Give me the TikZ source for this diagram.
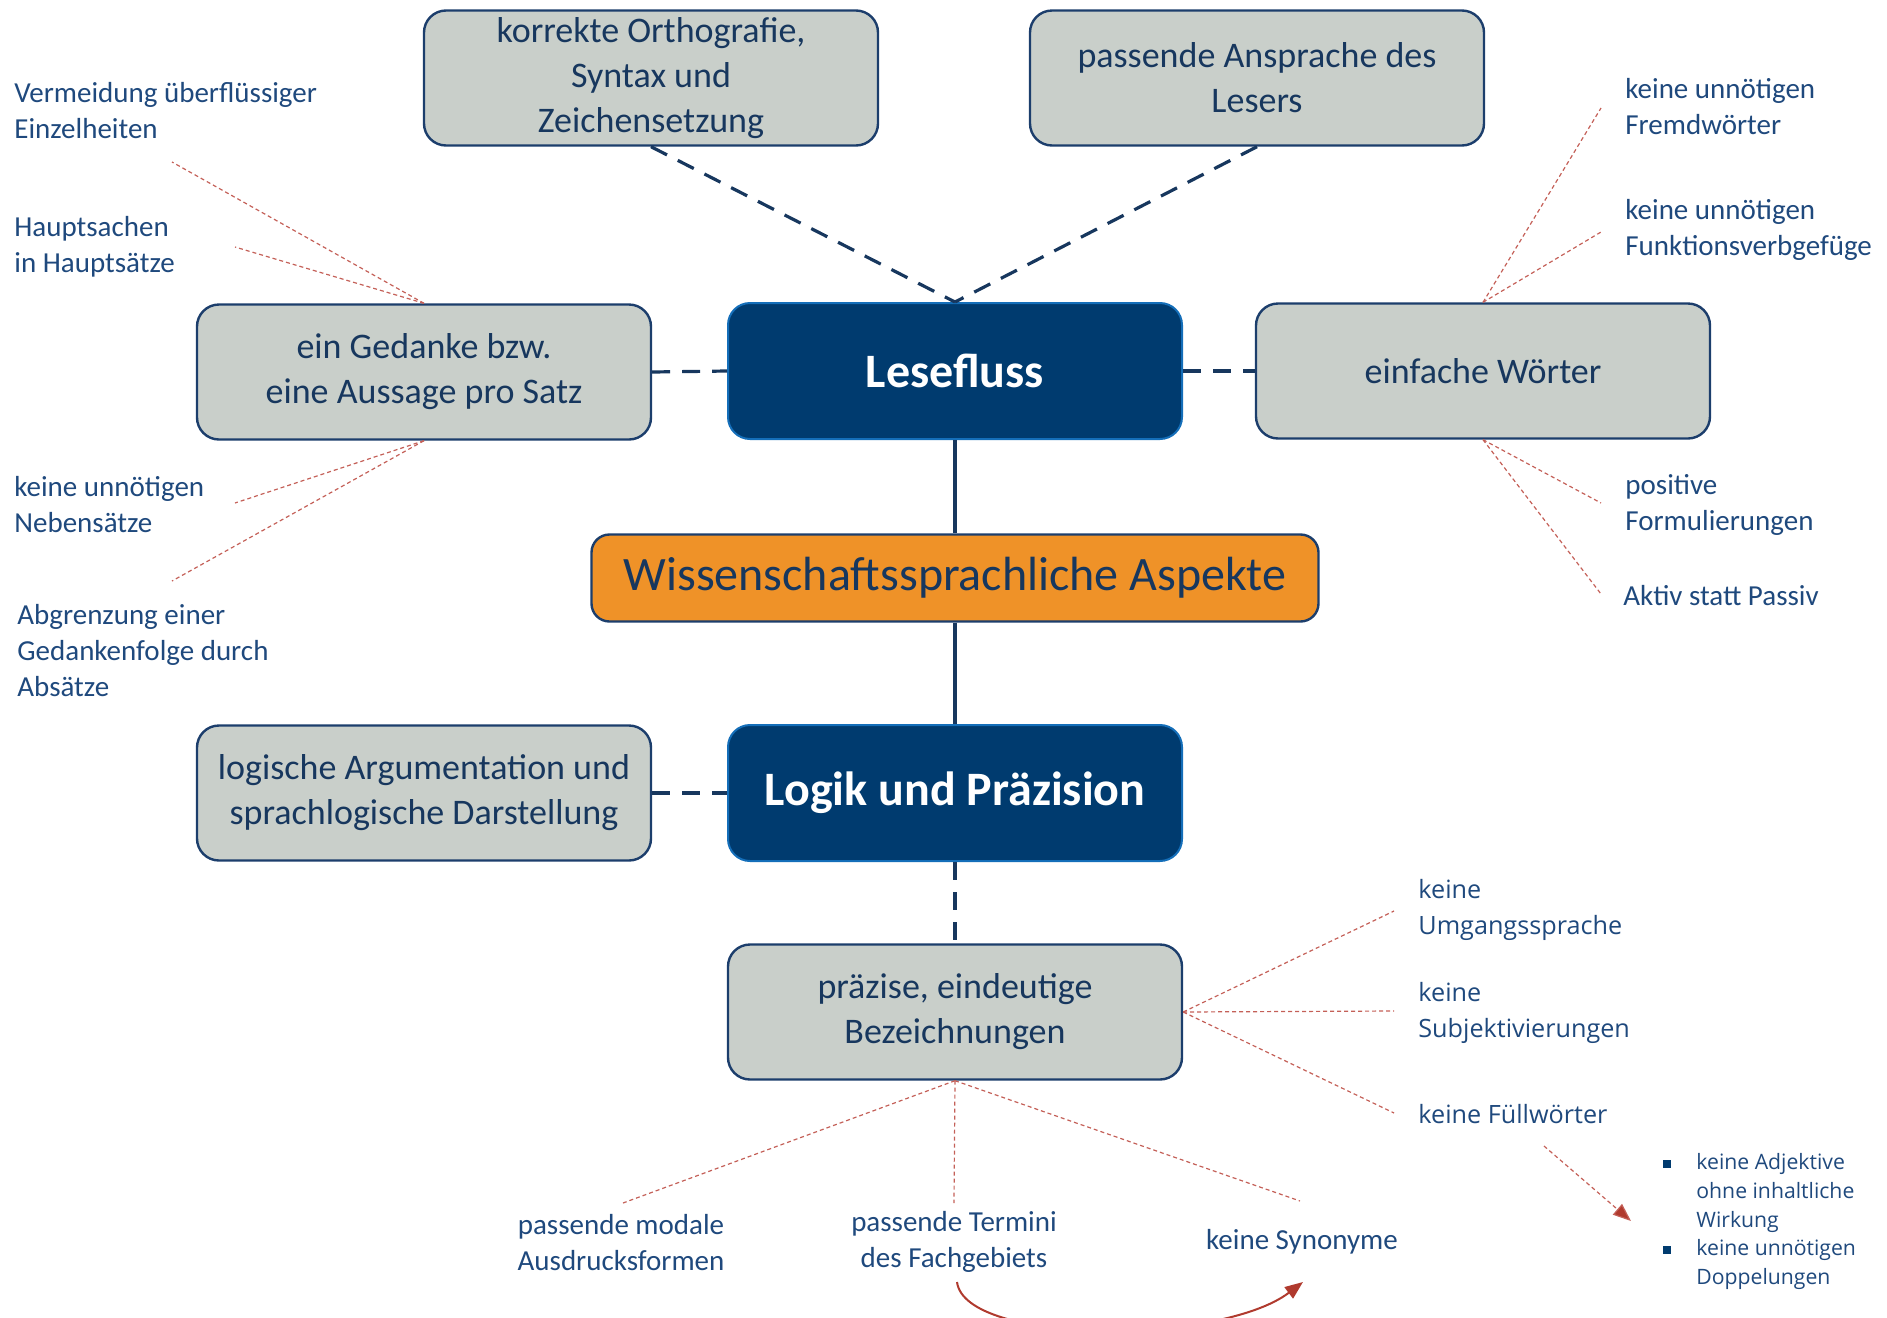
\documentclass[tikz,border=0pt]{standalone}
\usepackage{fontspec}
\setmainfont{Carlito}
\newfontfamily\segoe{Open Sans}
\usetikzlibrary{arrows.meta}

\definecolor{navy}{RGB}{0,59,111}
\definecolor{hauptrand}{RGB}{20,110,185}
\definecolor{boxgrau}{RGB}{201,207,202}
\definecolor{boxrand}{RGB}{28,62,108}
\definecolor{boxtext}{RGB}{23,55,94}
\definecolor{labelblau}{RGB}{31,73,125}
\definecolor{orange}{RGB}{239,146,40}
\definecolor{linienblau}{RGB}{23,55,94}
\definecolor{hinweisrot}{RGB}{196,96,88}
\definecolor{pfeilrot}{RGB}{176,58,46}

\tikzset{
	graubox/.style={draw=boxrand, line width=1.2pt, fill=boxgrau, rounded corners=11pt,
		minimum width=227pt, minimum height=67.5pt, inner sep=0pt, align=center,
		text=boxtext, font=\fontsize{18}{22.5}\selectfont},
	hauptbox/.style={draw=hauptrand, line width=1pt, fill=navy, rounded corners=11pt,
		minimum width=227pt, minimum height=68pt, inner sep=0pt,
		text=white, font=\fontsize{24}{28}\selectfont\bfseries},
	stichwort/.style={anchor=west, align=left, inner sep=0pt, text=labelblau,
		font=\fontsize{14.5}{18}\selectfont},
	stichwortmitte/.style={align=center, inner sep=0pt, text=labelblau,
		font=\fontsize{14.5}{18}\selectfont},
	stichwortsegoe/.style={anchor=west, align=left, inner sep=0pt, text=labelblau,
		font=\segoe\fontsize{12.6}{18}\selectfont},
	punkt/.style={fill=navy, inner sep=0pt, minimum size=4pt},
	verbindung/.style={draw=linienblau, line width=1.6pt, dash pattern=on 9pt off 6pt},
	hinweis/.style={draw=hinweisrot, line width=0.6pt, dash pattern=on 2pt off 1.5pt},
}

\begin{document}
\begin{tikzpicture}[x=0.5pt, y=-0.5pt]
		\clip (0,0) rectangle (1887,1318);
		
		% Kaesten
		\node [graubox] (orth) at (651,78) {korrekte Orthografie,\\Syntax und\\Zeichensetzung};
		\node [graubox] (ansprache) at (1257,78) {passende Ansprache des\\Lesers};
		\node [hauptbox] (lesefluss) at (955,371) {Lesefluss};
		\node [graubox] (gedanke) at (424,372) {ein Gedanke bzw.\\eine Aussage pro Satz};
		\node [graubox] (einfach) at (1483,371) {einfache W\"orter};
		\node [draw=boxrand, line width=1.2pt, fill=orange, rounded corners=9pt,
			minimum width=363.5pt, minimum height=43.5pt, text=boxtext,
			font=\fontsize{24}{28}\selectfont] (aspekte) at (955,578) {Wissenschaftssprachliche Aspekte};
		\node [hauptbox] (logik) at (955,793) {Logik und Pr\"azision};
		\node [graubox] (argument) at (424,793) {logische Argumentation und\\sprachlogische Darstellung};
		\node [graubox] (praezise) at (955,1012) {pr\"azise, eindeutige\\Bezeichnungen};
		
		% Verbindungen
		\draw [verbindung] (orth.south) -- (lesefluss.north);
		\draw [verbindung] (ansprache.south) -- (lesefluss.north);
		\draw [verbindung] (gedanke.east) -- (lesefluss.west);
		\draw [verbindung] (lesefluss.east) -- (einfach.west);
		\draw [linienblau, line width=1.6pt] (lesefluss.south) -- (aspekte.north);
		\draw [linienblau, line width=1.6pt] (aspekte.south) -- (logik.north);
		\draw [verbindung] (argument.east) -- (logik.west);
		\draw [verbindung] (logik.south) -- (praezise.north);
		
		% Stichworte
		\node [stichwort] (vermeidung) at (14,111) {Vermeidung \"uberfl\"ussiger\\Einzelheiten};
		\node [stichwort] (hauptsachen) at (14,247) {Hauptsachen\\in Haupts\"atze};
		\node [stichwort] (nebensaetze) at (14,505) {keine unn\"otigen\\Nebens\"atze};
		\node [stichwort] (abgrenzung) at (17,651) {Abgrenzung einer\\Gedankenfolge durch\\Abs\"atze};
		\node [stichwort] (fremd) at (1625,107) {keine unn\"otigen\\Fremdw\"orter};
		\node [stichwort] (funktion) at (1625,230) {keine unn\"otigen\\Funktionsverbgef\"uge};
		\node [stichwort] (positiv) at (1625,505) {positive\\Formulierungen};
		\node [stichwort] (aktiv) at (1623,596) {Aktiv statt Passiv};
		\node [stichwortsegoe] (umgang) at (1418,910) {keine\\Umgangssprache};
		\node [stichwortsegoe] (subjektiv) at (1418,1013) {keine\\Subjektivierungen};
		\node [stichwortsegoe] (fuell) at (1418,1114) {keine F\"ullw\"orter};
		\node [stichwortmitte] (modal) at (621,1243) {passende modale\\Ausdrucksformen};
		\node [stichwortmitte] (termini) at (954,1242) {passende Termini\\des Fachgebiets};
		\node [stichwortmitte] (synonyme) at (1302,1242) {keine Synonyme};
		
		% Aufzaehlung
		\node [punkt] (p1) at (1667,1164) {};
		\node [punkt] (p2) at (1667,1250) {};
		\node [anchor=west, align=left, inner sep=0pt, text=labelblau,
			font=\segoe\fontsize{10.6}{14.5}\selectfont] (adjektive) at (1696,1193) {keine Adjektive\\ohne inhaltliche\\Wirkung};
		\node [anchor=west, align=left, inner sep=0pt, text=labelblau,
			font=\segoe\fontsize{10.6}{14.5}\selectfont] (doppelung) at (1696,1264.5) {keine unn\"otigen\\Doppelungen};
		
		% Enden der Hinweislinien
		\coordinate (h1) at (172,162);
		\coordinate (h2) at (235,247);
		\coordinate (h3) at (235,503);
		\coordinate (h4) at (172,581);
		\coordinate (h5) at (1601,108);
		\coordinate (h6) at (1601,232);
		\coordinate (h7) at (1601,503);
		\coordinate (h8) at (1601,594);
		\coordinate (h9) at (1394,911);
		\coordinate (h10) at (1394,1011);
		\coordinate (h11) at (1394,1113);
		\coordinate (h12) at (623,1203);
		\coordinate (h13) at (954,1203);
		\coordinate (h14) at (1300,1201);
		\coordinate (f1) at (1544,1146);
		\coordinate (f2) at (1631,1221);
		\coordinate (t1) at (957,1282);
		\coordinate (t2) at (1303,1282);
		
		\foreach \h in {h1,h2} {\draw [hinweis] (gedanke.north) -- (\h);}
		\foreach \h in {h3,h4} {\draw [hinweis] (gedanke.south) -- (\h);}
		\foreach \h in {h5,h6} {\draw [hinweis] (einfach.north) -- (\h);}
		\foreach \h in {h7,h8} {\draw [hinweis] (einfach.south) -- (\h);}
		\foreach \h in {h9,h10,h11} {\draw [hinweis] (praezise.east) -- (\h);}
		\foreach \h in {h12,h13,h14} {\draw [hinweis] (praezise.south) -- (\h);}
		
		\draw [hinweis, -{Triangle[length=9pt,width=7pt,fill=pfeilrot]}] (f1) -- (f2);
		\draw [pfeilrot, line width=1pt, -{Triangle[length=9pt,width=7pt]}]
			(t1) .. controls (965,1345) and (1220,1345) .. (t2);
\end{tikzpicture}
\end{document}
